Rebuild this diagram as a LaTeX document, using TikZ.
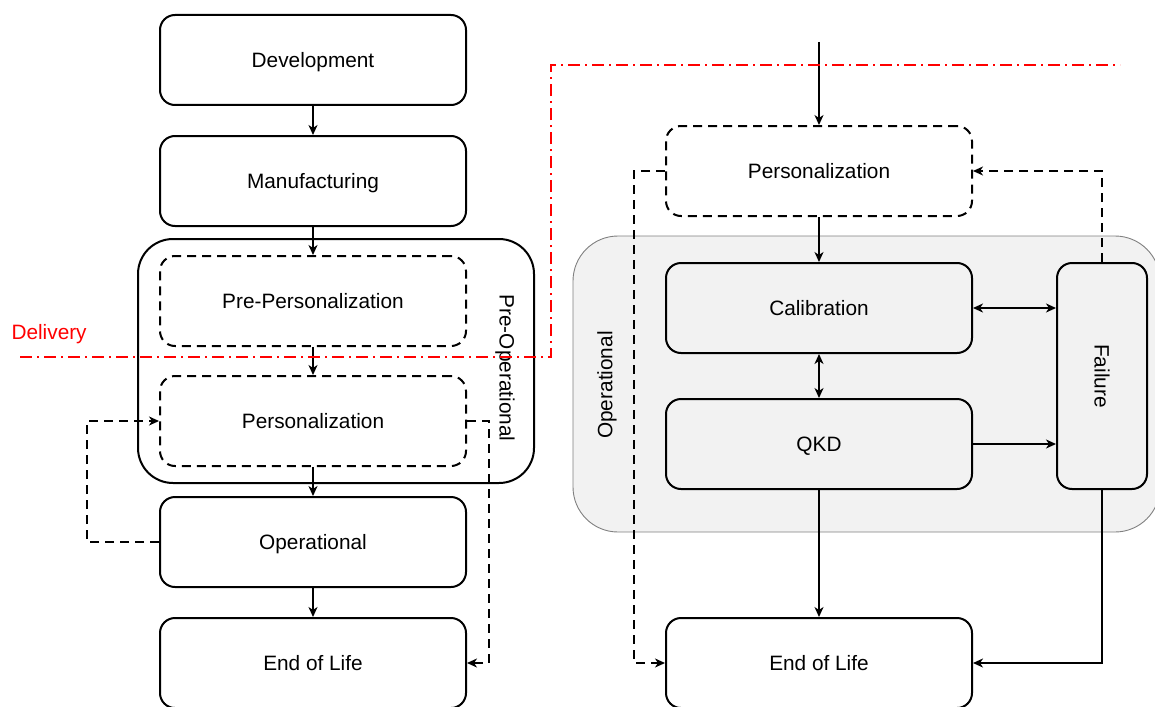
\documentclass[tikz,border=0pt]{standalone}
\usepackage{fontspec}
\setmainfont{Liberation Sans}
\usetikzlibrary{arrows.meta}
\definecolor{opgrey}{HTML}{F2F2F2}
\definecolor{opborder}{HTML}{808080}
\begin{document}
\begin{tikzpicture}[x=1pt,y=-1pt,
  every node/.style={font=\fontsize{20.8}{24}\selectfont},
  stbox/.style={draw, line width=2pt, rounded corners=15pt, minimum width=306pt, minimum height=90pt, inner sep=0pt, text depth=0pt},
  dbox/.style={stbox, dash pattern=on 9pt off 6pt},
  tip/.tip={Stealth[length=10pt,width=9pt,inset=3pt]},
  arr/.style={line width=1.8pt, -tip},
  darr/.style={arr, dash pattern=on 9pt off 6pt},
  biarr/.style={line width=1.8pt, tip-tip},
  ]
\useasboundingbox (0,0) rectangle (1155,706);

% containers
\node[draw=opborder, fill=opgrey, line width=0.9pt, rounded corners=45pt,
      minimum width=587pt, minimum height=296pt, inner sep=0pt] (opcont) at (866.5,384) {};
\node[draw, line width=2pt, rounded corners=35pt,
      minimum width=396pt, minimum height=244pt, inner sep=0pt] (preop) at (336,361) {};
\node[rotate=-90] (preoplbl) at (505,368) {Pre-Operational};
\node[rotate=90] (oplbl) at (607,385) {Operational};

% left column
\node[stbox] (dev)  at (313,60)  {Development};
\node[stbox] (man)  at (313,181) {Manufacturing};
\node[dbox]  (prep) at (313,301) {Pre-Personalization};
\node[dbox]  (persL) at (313,421) {Personalization};
\node[stbox] (operL) at (313,542) {Operational};
\node[stbox] (eolL) at (313,663) {End of Life};

% right column
\node[dbox]  (persR) at (819,171) {Personalization};
\node[stbox] (calib) at (819,308) {Calibration};
\node[stbox] (qkd)   at (819,444) {QKD};
\node[stbox, minimum width=90pt, minimum height=226pt] (fail) at (1102,376) {};
\node[rotate=-90] (faillbl) at (fail.center) {Failure};
\node[stbox] (eolR) at (819,663) {End of Life};

% left connectors
\draw[arr] (dev) -- (man);
\draw[arr] (man) -- (prep);
\draw[arr] (prep) -- (persL);
\draw[arr] (persL) -- (operL);
\draw[arr] (operL) -- (eolL);
\draw[darr] (operL.west) -- ++(-72,0) |- (persL.west);
\draw[darr] (persL.east) -- ++(22,0) |- (eolL.east);

% right connectors
\coordinate (topin) at (819,42);
\draw[arr] (topin) -- (persR.north);
\draw[arr] (persR) -- (calib);
\draw[biarr] (calib) -- (qkd);
\draw[biarr] (calib.east) -- (calib.east -| fail.west);
\draw[arr] (qkd.east) -- (qkd.east -| fail.west);
\draw[arr] (qkd) -- (eolR);
\draw[arr] (fail.south) |- (eolR.east);
\draw[darr] (fail.north) |- (persR.east);
\draw[darr] (persR.west) -- ++(-31,0) |- (eolR.west);

% delivery line
\node[red, anchor=west] (deliv) at (8,334) {Delivery};
\coordinate (d1) at (20,357);
\coordinate (d2) at (551,357);
\coordinate (d3) at (551,65);
\coordinate (d4) at (1120,65);
\draw[red, line width=1.6pt, dash pattern=on 12pt off 5pt on 2pt off 5pt] (d1) -- (d2) -- (d3) -- (d4);
\end{tikzpicture}
\end{document}
